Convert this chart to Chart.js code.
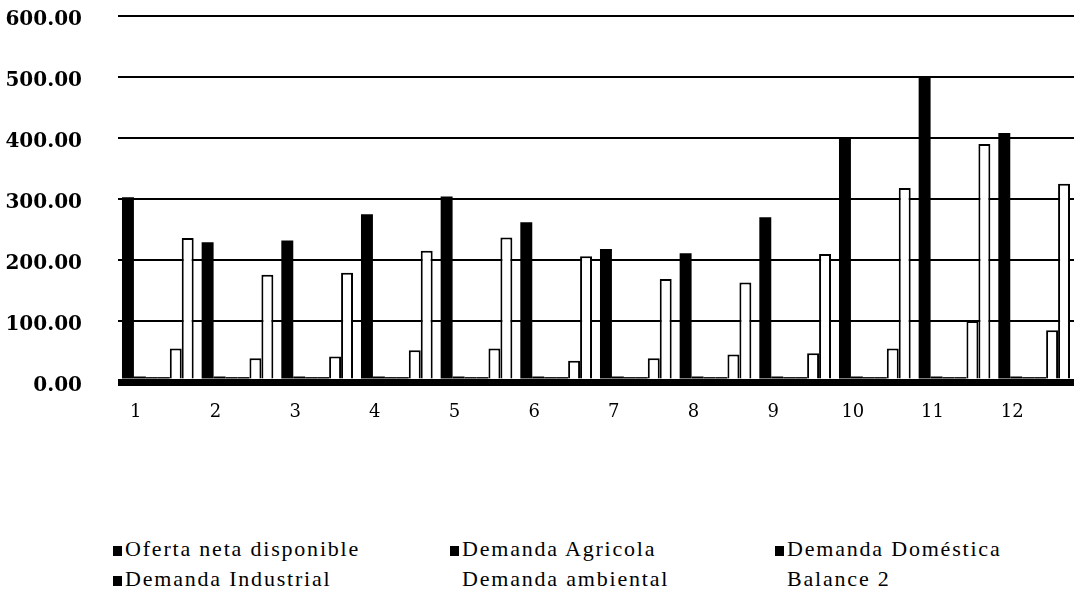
<!DOCTYPE html>
<html>
<head>
<meta charset="utf-8">
<script src="https://cdn.jsdelivr.net/npm/chart.js@4/dist/chart.umd.min.js"></script>
<style>
    body { margin: 0; background: #fff; }
    #wrap { position: relative; width: 1074px; height: 596px; overflow: hidden; }
    /* chart.js keeps ~32px above the plot; pull the box up so the 600 line sits at y=14 */
    #chartBox { position: absolute; left: 0; top: -32px; width: 1074px; height: 472px; }
    .leg { position: absolute; font-family: "Liberation Serif", serif; font-size: 22px;
           letter-spacing: 1.8px; color: #000; line-height: 22px; white-space: nowrap; }
    .leg i { display: inline-block; width: 9px; height: 10px; background: #000; margin-right: 3px; }
</style>
</head>
<body>
<div id="wrap">
    <div id="chartBox"><canvas id="barChart"></canvas></div>
    <div id="legend"></div>
</div>
<script>
var months = ["1", "2", "3", "4", "5", "6", "7", "8", "9", "10", "11", "12"];
var oferta = [303, 229, 232, 275, 304, 262, 218, 211, 270, 400, 500, 408];
var demAgricola = [9, 9, 9, 9, 9, 9, 9, 9, 9, 9, 9, 9];
var demDomestica = [8, 8, 8, 8, 8, 8, 8, 8, 8, 8, 8, 8];
var demIndustrial = [8, 8, 8, 8, 8, 8, 8, 8, 8, 8, 8, 8];
var demAmbiental = [55, 39, 42, 52, 55, 35, 39, 45, 47, 55, 100, 85];
var balance2 = [236, 176, 179, 215, 237, 206, 169, 163, 210, 318, 390, 325];
var yTicks = [0, 100, 200, 300, 400, 500, 600];

var seriesNames = ["Oferta neta disponible", "Demanda Agricola", "Demanda Doméstica",
    "Demanda Industrial", "Demanda ambiental", "Balance 2"];
var seriesData = [oferta, demAgricola, demDomestica, demIndustrial, demAmbiental, balance2];
var seriesFill = ["#000", "#000", "#000", "#000", "#fff", "#fff"];

function buildLegend() {
    // 3 columns x 2 rows, like the old spreadsheet legend
    var cols = [113, 450, 775];
    var rows = [538, 568];
    var html = "";
    for (var i = 0; i < seriesNames.length; i++) {
        var x = cols[i % 3];
        var y = rows[Math.floor(i / 3)];
        var mark = seriesFill[i] == "#000" ? "<i></i>" : "<i style='background:#fff'></i>";
        html += "<div class='leg' style='left:" + x + "px;top:" + y + "px'>" + mark + seriesNames[i] + "</div>";
    }
    document.getElementById("legend").innerHTML = html;
}

function buildChart() {
    var sets = [];
    for (var i = 0; i < seriesNames.length; i++) {
        sets.push({
            label: seriesNames[i],
            data: seriesData[i],
            backgroundColor: seriesFill[i],
            borderColor: "#000",
            borderWidth: seriesFill[i] == "#000" ? 0 : 2,
            categoryPercentage: 0.9,
            barPercentage: 1.0
        });
    }

    var ctx = document.getElementById("barChart");
    new Chart(ctx, {
        type: 'bar',
        data: { labels: months, datasets: sets },
        options: {
            responsive: true,
            maintainAspectRatio: false,
            animation: false,
            layout: { padding: { top: 14, right: 0, left: 0, bottom: 0 } },
            plugins: { legend: { display: false }, tooltip: { enabled: false } },
            scales: {
                x: {
                    grid: { display: false, drawTicks: false },
                    border: { display: false },
                    ticks: {
                        color: "#000", padding: 20, labelOffset: -22,
                        font: { family: "DejaVu Serif", size: 18 }
                    },
                    afterFit: function (scale) { scale.height = 58; }
                },
                y: {
                    min: 0, max: 600,
                    afterBuildTicks: function (scale) {
                        scale.ticks = yTicks.map(function (v) { return { value: v }; });
                    },
                    grid: {
                        color: "#000", drawTicks: false,
                        lineWidth: function (c) { return c.tick && c.tick.value === 0 ? 7 : 2; }
                    },
                    border: { display: false },
                    ticks: {
                        color: "#000", padding: 36, labelOffset: 4,
                        font: { family: "DejaVu Serif", size: 20, weight: "bold" },
                        callback: function (v) { return Number(v).toFixed(2); }
                    },
                    afterFit: function (scale) { scale.width = 118; }
                }
            }
        }
    });
}

buildLegend();
buildChart();
</script>
</body>
</html>
